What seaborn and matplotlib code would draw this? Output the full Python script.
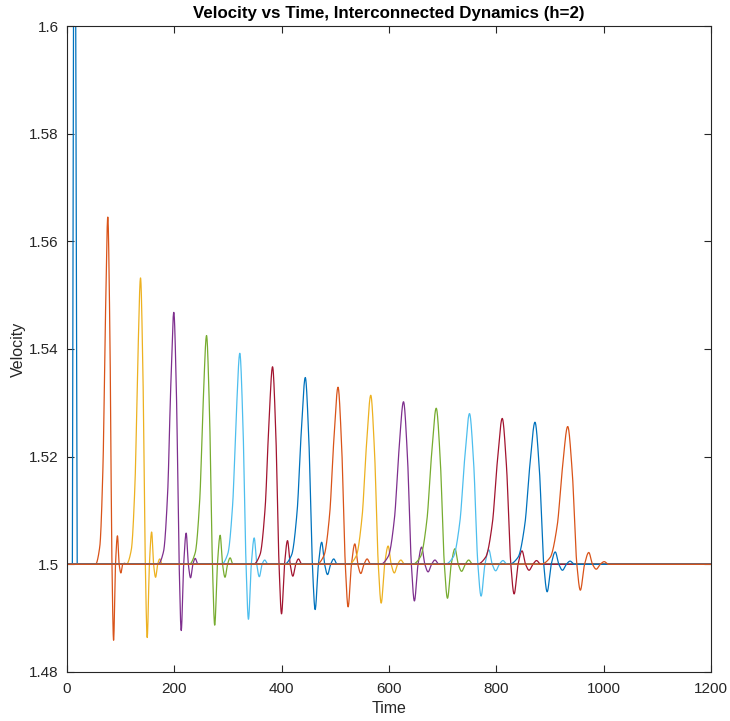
import numpy as np
import pandas as pd
import matplotlib
matplotlib.use("Agg")
import matplotlib.pyplot as plt
import seaborn as sns

# ---------------- data ----------------
# first (blue) pulse: a sharp spike that leaves the axes at the top
first_t = [0, 10.0, 14.0, 18.8, 1200]
first_v = [1.5, 1.5, 1.69, 1.5, 1.5]

# later pulses (series 2..16)
peak_t = [76, 137, 199, 260, 322, 383, 444, 505, 566, 627, 688, 750, 811, 872, 933]
peak_v = [1.5645, 1.5532, 1.5468, 1.5425, 1.5392, 1.5367, 1.5347, 1.5329,
          1.5314, 1.5302, 1.5290, 1.5280, 1.5271, 1.5264, 1.5256]
dip_v = [1.4859, 1.4864, 1.4877, 1.4887, 1.4898, 1.4908, 1.4916, 1.4921,
         1.4928, 1.4932, 1.4937, 1.4941, 1.4945, 1.4949, 1.4952]
bump_v = [1.5053, 1.5060, 1.5058, 1.5054, 1.5049, 1.5044, 1.5041, 1.5038,
          1.5034, 1.5032, 1.5029, 1.5027, 1.5025, 1.5023, 1.5022]
dip2_v = [1.4984, 1.4976, 1.4975, 1.4976, 1.4977, 1.4978, 1.4981, 1.4983,
          1.4984, 1.4986, 1.4987, 1.4988, 1.4989, 1.4989, 1.4991]
bump3_v = [1.5002, 1.5010, 1.5011, 1.5012, 1.5008, 1.5010, 1.5010, 1.5010,
           1.5008, 1.5008, 1.5008, 1.5007, 1.5007, 1.5006, 1.5005]
pulse_width = [1.0, 1.15, 1.28, 1.41, 1.49, 1.55, 1.70, 1.74, 1.80, 1.88,
               1.94, 2.0, 2.05, 2.1, 2.18]

# shape of one pulse (time offsets of the key points, read from the 2nd pulse)
key_dt = [-23, -15, -9, -4.5, 0, 3.8, 7.8, 10.8, 14.4, 18, 21.2, 24.4, 27.8, 31.2, 35, 43]
rise_frac = [0.0, 0.05, 0.28, 0.70, 1.0, 0.68]   # fraction of peak height

baseline = 1.5
t_start, t_end = 0, 1200

x_ticks = [0, 200, 400, 600, 800, 1000, 1200]
y_ticks = [1.48, 1.50, 1.52, 1.54, 1.56, 1.58, 1.60]
y_tick_labels = ["1.48", "1.5", "1.52", "1.54", "1.56", "1.58", "1.6"]

matlab_colors = ["#0072BD", "#D95319", "#EDB120", "#7E2F8E",
                 "#77AC30", "#4DBEEE", "#A2142F"]


# ---------------- smooth rendering through the key points ----------------
def pchip(xk, yk, x):
    xk = np.asarray(xk, float)
    yk = np.asarray(yk, float)
    h = np.diff(xk)
    d = np.diff(yk) / h
    m = np.zeros_like(yk)
    for k in range(1, len(xk) - 1):
        if d[k - 1] * d[k] > 0:
            w1 = 2 * h[k] + h[k - 1]
            w2 = h[k] + 2 * h[k - 1]
            m[k] = (w1 + w2) / (w1 / d[k - 1] + w2 / d[k])
    idx = np.clip(np.searchsorted(xk, x) - 1, 0, len(xk) - 2)
    hh = h[idx]
    s = (x - xk[idx]) / hh
    h00 = 2 * s**3 - 3 * s**2 + 1
    h10 = s**3 - 2 * s**2 + s
    h01 = -2 * s**3 + 3 * s**2
    h11 = s**3 - s**2
    return h00 * yk[idx] + h10 * hh * m[idx] + h01 * yk[idx + 1] + h11 * hh * m[idx + 1]


tt = np.arange(t_start, t_end + 0.05, 0.1)
frames = [pd.DataFrame({"Time": tt, "Velocity": np.interp(tt, first_t, first_v), "s": 0})]
for i in range(len(peak_t)):
    A = peak_v[i] - baseline
    vals = [baseline + f * A for f in rise_frac]
    vals += [baseline, dip_v[i], baseline, bump_v[i], baseline, dip2_v[i],
             baseline, bump3_v[i], baseline, baseline]
    kt = [t_start] + [peak_t[i] + dt * pulse_width[i] for dt in key_dt] + [t_end]
    kv = [baseline] + vals + [baseline]
    frames.append(pd.DataFrame({"Time": tt, "Velocity": pchip(kt, kv, tt), "s": i + 1}))
df = pd.concat(frames, ignore_index=True)

n_series = len(peak_t) + 1
palette = [matlab_colors[k % 7] for k in range(n_series)]

# ---------------- figure ----------------
sns.set_theme(style="white")
plt.rcParams["font.family"] = ["Liberation Sans", "DejaVu Sans"]

fig = plt.figure(figsize=(7.30, 7.21), dpi=100)
ax = fig.add_axes([67 / 730, 49 / 721, 644 / 730, 646 / 721])

sns.lineplot(data=df, x="Time", y="Velocity", hue="s", palette=palette,
             estimator=None, sort=False, legend=False, linewidth=0.9, ax=ax)

ax.set_xlim(0, 1200)
ax.set_ylim(1.48, 1.6)
ax.set_xticks(x_ticks)
ax.set_xticklabels([str(v) for v in x_ticks])
ax.set_yticks(y_ticks)
ax.set_yticklabels(y_tick_labels)
ax.tick_params(direction="in", length=5, width=0.8, colors="#262626",
               labelsize=11, top=True, right=True, bottom=True, left=True,
               labelcolor="#262626")
ax.tick_params(axis="x", pad=7)
ax.tick_params(axis="y", pad=6)
for sp in ax.spines.values():
    sp.set_visible(True)
    sp.set_color("#262626")
    sp.set_linewidth(0.8)

ax.set_xlabel("Time", fontsize=11.5, color="#262626", labelpad=4)
ax.set_ylabel("Velocity", fontsize=11.5, color="#262626", labelpad=2)
ax.set_title("Velocity vs Time, Interconnected Dynamics (h=2)", fontsize=12.2,
             fontweight="bold", color="black", pad=6)

fig.savefig("out.png", dpi=100, facecolor="white")
